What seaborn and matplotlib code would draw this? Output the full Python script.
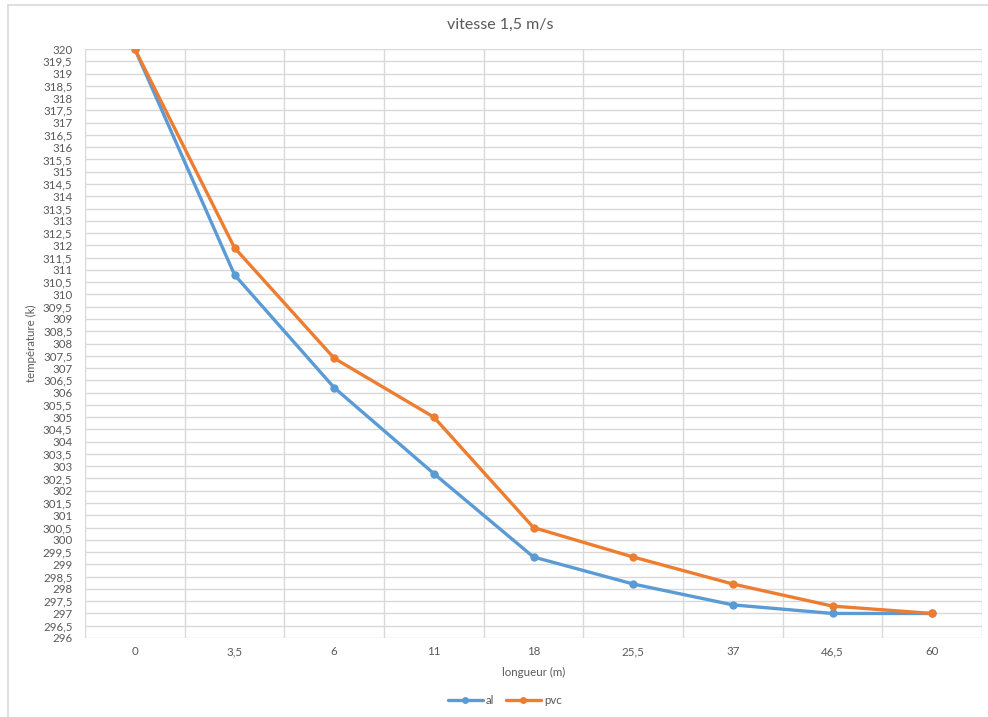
import matplotlib
matplotlib.use("Agg")
import matplotlib.pyplot as plt
from matplotlib.lines import Line2D
import seaborn as sns
import pandas as pd
import numpy as np

# Lengths along the duct (categorical axis labels)
longueur = ["0", "3,5", "6", "11", "18", "25,5", "37", "46,5", "60"]

# Temperature (K) for each duct material
temp_al = [320.0, 310.8, 306.2, 302.7, 299.3, 298.2, 297.35, 297.0, 297.0]
temp_pvc = [320.0, 311.9, 307.4, 305.0, 300.5, 299.3, 298.2, 297.3, 297.0]

series_names = ["al", "pvc"]
palette = {"al": "#5B9BD5", "pvc": "#ED7D31"}

df = pd.DataFrame({
    "longueur": longueur * 2,
    "temperature": temp_al + temp_pvc,
    "materiau": ["al"] * len(longueur) + ["pvc"] * len(longueur),
})
df["pos"] = df["longueur"].map({lab: i for i, lab in enumerate(longueur)})

sns.set_theme(style="white")
plt.rcParams["font.family"] = ["Lato", "DejaVu Sans"]
text_col = "#595959"
grid_col = "#D9D9D9"

fig = plt.figure(figsize=(9.88, 7.17), dpi=100)
ax = fig.add_axes([85 / 988, 1 - 638 / 717, (982 - 85) / 988, (638 - 49) / 717])

sns.lineplot(
    data=df, x="pos", y="temperature", hue="materiau", hue_order=series_names,
    palette=palette, marker="o", markersize=6, markeredgewidth=0,
    linewidth=2.4, ax=ax, legend=False, zorder=3,
)

n = len(longueur)
ax.set_xlim(-0.5, n - 0.5)
ax.set_ylim(296, 320)

# category labels centred, grid lines between categories
ax.set_xticks(np.arange(n))
ax.set_xticklabels(longueur)
ax.set_xticks(np.arange(-0.5, n, 1.0), minor=True)
yt = np.arange(296, 320.01, 0.5)
ax.set_yticks(yt)
ax.set_yticklabels([("%g" % v).replace(".", ",") for v in yt])

ax.grid(False)
ax.grid(axis="x", which="minor", color=grid_col, linewidth=1.0)
ax.grid(axis="y", which="major", color=grid_col, linewidth=1.0)
ax.tick_params(axis="both", which="both", length=0, colors=text_col, labelsize=8.3)
ax.tick_params(axis="x", pad=6)
ax.tick_params(axis="y", pad=9)
for s in ax.spines.values():
    s.set_visible(False)

ax.set_xlabel("longueur (m)", color=text_col, fontsize=8.3, labelpad=7)
ax.set_ylabel("température (k)", color=text_col, fontsize=8.3, labelpad=4)
fig.text(500 / 988, 1 - 25 / 717, "vitesse 1,5 m/s", ha="center", va="center",
         color=text_col, fontsize=11.5)

handles = [Line2D([0], [0], color=palette[s], marker="o", markersize=5,
                  markeredgewidth=0, linewidth=2.4) for s in series_names]
fig.legend(handles, series_names, loc="center", bbox_to_anchor=(505 / 988, 1 - 701 / 717),
           ncol=2, frameon=False, fontsize=8.3, labelcolor=text_col,
           handlelength=3, columnspacing=1.0, handletextpad=0.3)

# chart-area border (left and top edges)
fig.add_artist(Line2D([8 / 988, 8 / 988], [0, 1 - 5 / 717], transform=fig.transFigure,
                      color=grid_col, linewidth=1.2))
fig.add_artist(Line2D([8 / 988, 1], [1 - 5 / 717, 1 - 5 / 717], transform=fig.transFigure,
                      color=grid_col, linewidth=1.2))

fig.savefig("out.png", dpi=100)
